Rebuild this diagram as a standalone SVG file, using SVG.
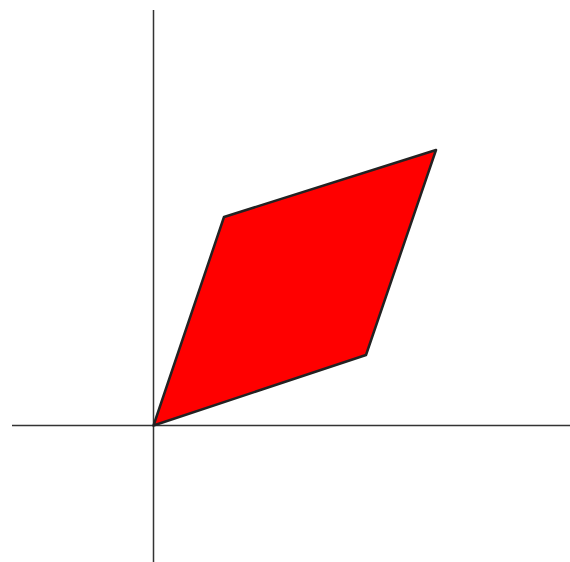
<svg xmlns="http://www.w3.org/2000/svg" width="570" height="562" viewBox="0 0 570 562">
<style>
.axis{stroke:#333;stroke-width:1.5;fill:none}
.shape{fill:#ff0000;stroke:#222;stroke-width:2.5;stroke-linejoin:round}
</style>
<rect width="570" height="562" fill="#fff"/>
<g id="axes">
<line class="axis" x1="153.5" y1="10" x2="153.5" y2="562"/>
<line class="axis" x1="12" y1="425.5" x2="570" y2="425.5"/>
</g>
<g id="parallelogram">
<polygon class="shape" points="153.5,425.5 366,355 436,150 224,217"/>
</g>
</svg>
